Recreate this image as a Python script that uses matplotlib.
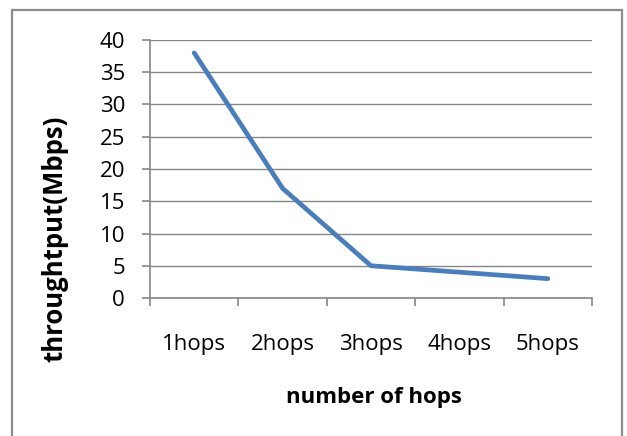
import matplotlib
matplotlib.use("Agg")
import matplotlib.pyplot as plt
from matplotlib.patches import Rectangle

categories = ["1hops", "2hops", "3hops", "4hops", "5hops"]
throughput = [38, 17, 5, 4, 3]
yticks = [0, 5, 10, 15, 20, 25, 30, 35, 40]

W, H = 627, 436
fig = plt.figure(figsize=(W / 100, H / 100), dpi=100)
font = "Open Sans"
plt.rcParams["font.family"] = [font, "DejaVu Sans"]
FS = 16

# chart border
fig.patches.append(Rectangle((12 / W, -0.05), 610 / W, 1 - 10 / H + 0.05,
                             transform=fig.transFigure, fill=False,
                             edgecolor="#8c8c8c", linewidth=1.6))

left, right, top, bottom = 150, 592, 40, 298
ax = fig.add_axes([left / W, 1 - bottom / H, (right - left) / W, (bottom - top) / H])
x = list(range(len(categories)))
ax.plot(x, throughput, color="#4a7ebb", linewidth=3.4, solid_capstyle="round",
        solid_joinstyle="round", zorder=3)
ax.set_xlim(-0.5, len(categories) - 0.5)
ax.set_ylim(0, 40)
ax.set_yticks(yticks)
ax.set_xticks(x)
ax.set_xticklabels(categories)
ax.set_xticks([i - 0.5 for i in range(len(categories) + 1)], minor=True)

for s in ["top", "right"]:
    ax.spines[s].set_visible(False)
for s in ["left", "bottom"]:
    ax.spines[s].set_color("#868686")
    ax.spines[s].set_linewidth(1.2)

ax.grid(axis="y", color="#868686", linewidth=1.0, zorder=0)
ax.set_axisbelow(True)
ax.tick_params(axis="y", length=6, width=1.2, color="#868686", pad=12,
               labelsize=FS, labelcolor="black")
ax.tick_params(axis="x", which="major", length=0, pad=26, labelsize=FS,
               labelcolor="black")
ax.tick_params(axis="x", which="minor", length=6, width=1.2, color="#868686")

fig.text(374 / W, 1 - 397 / H, "number of hops", ha="center", va="center",
         fontsize=FS, fontweight="bold")
fig.text(55 / W, 1 - 239 / H, "throughtput(Mbps)", ha="center", va="center",
         rotation=90, fontsize=18.5, fontweight="bold")

fig.savefig("out.png", dpi=100)
